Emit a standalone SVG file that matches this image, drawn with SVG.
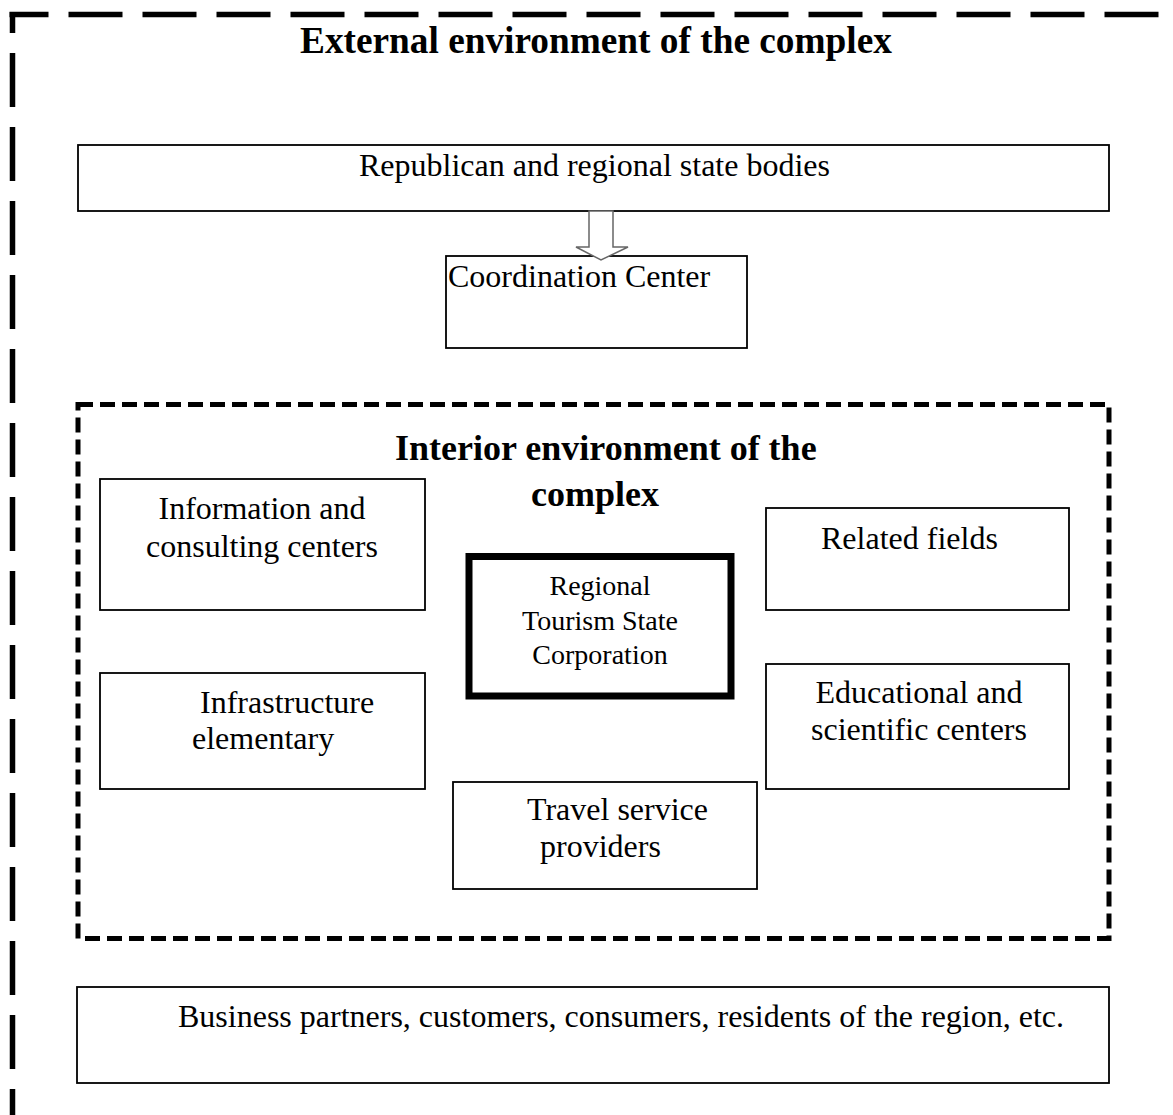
<svg xmlns="http://www.w3.org/2000/svg" width="1173" height="1115" viewBox="0 0 1173 1115">
<style>
.box{fill:#fff;stroke:#000;stroke-width:1.8}
.t{font-family:"Liberation Serif","Times New Roman",serif;font-size:32px;fill:#000}
.tb{font-family:"Liberation Serif","Times New Roman",serif;font-size:36px;font-weight:bold;fill:#000}
.outer{fill:none;stroke:#000;stroke-width:5.5;stroke-dasharray:54 20}
.inner{fill:none;stroke:#000;stroke-width:5;stroke-dasharray:15 7}
</style>
<rect width="1173" height="1115" fill="#fff"/>
<g id="external-environment">
<line class="outer" x1="12.5" y1="12" x2="12.5" y2="1115" stroke-dashoffset="33"/>
<line class="outer" x1="9.5" y1="14.5" x2="1173" y2="14.5" stroke-dashoffset="15"/>
<text class="tb" x="300" y="53" style="font-size:37.3px">External environment of the complex</text>
</g>
<g id="republican">
<rect class="box" x="78" y="145" width="1031" height="66"/>
<text class="t" x="359" y="176">Republican and regional state bodies</text>
</g>
<g id="coordination">
<rect class="box" x="446" y="256" width="301" height="92"/>
<text class="t" x="448" y="287">Coordination Center</text>
</g>
<g id="interior-environment">
<rect class="inner" x="78" y="404.5" width="1031" height="534"/>
<text class="tb" x="395" y="460">Interior environment of the</text>
<text class="tb" x="531" y="506">complex</text>
</g>
<g id="information">
<rect class="box" x="100" y="479" width="325" height="131"/>
<text class="t" x="262" y="519" text-anchor="middle">Information and</text>
<text class="t" x="262" y="557" text-anchor="middle">consulting centers</text>
</g>
<g id="regional-corporation">
<rect x="469" y="556.5" width="262" height="139.5" fill="#fff" stroke="#000" stroke-width="7"/>
<g class="t" style="font-size:28px" text-anchor="middle">
<text x="600" y="595">Regional</text>
<text x="600" y="630">Tourism State</text>
<text x="600" y="664">Corporation</text>
</g>
</g>
<g id="related-fields">
<rect class="box" x="766" y="508" width="303" height="102"/>
<text class="t" x="821" y="549">Related fields</text>
</g>
<g id="infrastructure">
<rect class="box" x="100" y="673" width="325" height="116"/>
<text class="t" x="200" y="713">Infrastructure</text>
<text class="t" x="192" y="749">elementary</text>
</g>
<g id="educational">
<rect class="box" x="766" y="664" width="303" height="125"/>
<text class="t" x="919" y="703" text-anchor="middle">Educational and</text>
<text class="t" x="919" y="740" text-anchor="middle">scientific centers</text>
</g>
<g id="travel">
<rect class="box" x="453" y="782" width="304" height="107"/>
<text class="t" x="527" y="820">Travel service</text>
<text class="t" x="540" y="857">providers</text>
</g>
<g id="business">
<rect class="box" x="77" y="987" width="1032" height="96"/>
<text class="t" x="178" y="1027">Business partners, customers, consumers, residents of the region, etc.</text>
</g>
<g id="connectors">
<polygon points="589,211 613,211 613,247 628,247 601,260 576,247 589,247" fill="#fff" stroke="#666" stroke-width="1.5"/>
</g>
</svg>
